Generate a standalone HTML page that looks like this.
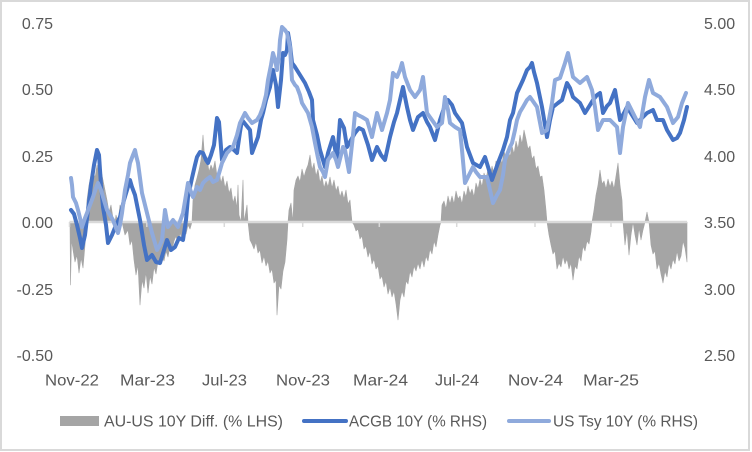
<!DOCTYPE html>
<html>
<head>
<meta charset="utf-8">
<style>
html,body{margin:0;padding:0;background:#fff;}
svg{display:block;}
text{font-family:"Liberation Sans",Arial,sans-serif;fill:#595959;}
</style>
</head>
<body>
<svg width="752" height="452" viewBox="0 0 752 452" xmlns="http://www.w3.org/2000/svg">
<rect x="0" y="0" width="752" height="452" fill="#fff"/>
<rect x="1" y="1" width="748" height="449" fill="none" stroke="#d9d9d9" stroke-width="2"/>

<!-- Gray differential area -->
<polygon fill="#a5a5a5" stroke="#a5a5a5" stroke-width="0.6" stroke-linejoin="round" points="
70,222 70.5,285 71.5,240 73,250 75,262 77,255 79,273 81,258 83,268 85,245 86,222 87,200 89,185 91,175 93,170 95,178 97,165 99,175 101,170 103,180 105,190 107,200 109,212 111,205 113,218 115,222 116,215 118,222 120,205 122,222 125,235 128,230 130,245 132,240 134,260 136,275 138,265 140,305 142,280 144,288 146,272 148,293 150,276 152,284 154,267 156,274 158,261 160,265 162,256 164,261 166,251 168,257 170,246 172,250 174,241 176,236 178,244 180,233 182,239 184,229 186,234 188,225 190,229 192,222 193,200 195,185 197,178 199,170 201,160 203,135 205,163 207,157 209,172 211,165 213,170 215,161 217,176 219,170 221,183 223,176 225,188 227,181 229,193 231,188 233,203 235,196 237,208 238,185 239,215 241,222 243,180 244,222 247,205 248,222 250,240 252,244 254,249 256,242 258,253 260,250 262,263 264,256 266,266 268,261 270,273 272,269 274,283 276,280 277,315 279,285 281,289 283,271 285,262 287,240 288,222 289,210 291,203 293,222 294,190 296,180 298,176 300,182 302,169 304,177 306,170 308,165 310,155 312,170 314,163 316,176 318,169 320,183 322,176 324,188 326,181 328,187 330,177 332,188 334,180 336,191 338,186 340,197 342,191 344,199 346,190 348,204 350,200 352,222 354,225 356,231 358,229 360,239 362,236 364,249 366,246 368,257 370,251 372,264 374,259 376,269 378,266 380,279 382,276 384,287 386,281 388,294 390,287 392,297 394,291 396,304 398,320 400,300 402,291 404,297 406,281 408,284 410,271 412,277 414,266 416,271 418,263 420,269 422,259 424,267 426,256 428,261 430,249 432,254 434,241 436,247 438,235 440,225 441,222 442,205 444,201 446,209 448,196 450,204 452,196 454,204 456,191 458,199 460,196 462,204 464,191 466,197 468,186 470,194 472,189 474,197 476,183 478,189 480,179 482,187 484,173 486,179 488,169 490,177 492,166 494,174 496,161 498,169 500,156 502,164 504,151 506,159 508,149 510,157 512,146 514,154 516,141 518,149 520,135 522,144 524,130 526,139 528,149 530,146 532,159 534,156 536,169 538,166 540,177 542,176 544,190 546,210 547,222 549,235 551,245 553,254 555,251 557,269 559,263 561,267 563,256 565,264 567,259 569,269 571,263 573,280 575,266 577,269 579,256 581,261 583,246 585,251 587,241 589,244 591,232 592,222 594,210 596,195 598,185 600,170 602,184 604,181 606,189 608,179 610,187 612,181 614,189 616,176 618,163 620,185 622,200 623,222 625,245 627,230 629,255 631,235 633,222 635,235 637,245 639,228 641,240 643,230 645,222 647,212 649,222 651,245 653,254 655,251 657,269 659,263 661,274 663,283 665,271 667,277 669,263 671,269 673,259 675,264 677,251 679,261 681,256 683,241 685,248 687,262 687,222"/>

<!-- Zero axis line and ticks -->
<line x1="69.5" y1="222" x2="687" y2="222" stroke="#d9d9d9" stroke-width="2.5"/>
<g stroke="#d9d9d9" stroke-width="1.5">
<line x1="69.5" y1="222" x2="69.5" y2="227"/>
<line x1="146.8" y1="222" x2="146.8" y2="227"/>
<line x1="224.3" y1="222" x2="224.3" y2="227"/>
<line x1="302.7" y1="222" x2="302.7" y2="227"/>
<line x1="379.3" y1="222" x2="379.3" y2="227"/>
<line x1="456.7" y1="222" x2="456.7" y2="227"/>
<line x1="535" y1="222" x2="535" y2="227"/>
<line x1="611" y1="222" x2="611" y2="227"/>
</g>

<!-- ACGB 10Y -->
<polyline fill="none" stroke="#4472c4" stroke-width="4" stroke-linejoin="round" stroke-linecap="round" points="
71,210 74,214 77,225 80,238 82,248 85,235 88,210 91,185 94,165 97,150 99,155 101,185 103,207 106,225 108,243 112,235 116,225 120,217 124,200 127,190 130,180 132,187 135,195 138,210 140,220 144,245 147,260 152,255 156,262 160,263 164,250 167,240 171,250 175,247 179,238 183,240 186,220 188,197 192,178 195,165 197,157 200,152 203,153 206,160 208,163 211,155 214,145 217,118 219,122 222,160 226,150 230,147 234,150 237,153 240,132 242,120 246,125 250,130 252,153 255,145 258,137 261,120 263,113 266,100 270,87 273,70 276,85 278,107 281,80 283,53 285,55 287,50 288,33 290,45 292,63 295,67 300,75 305,83 309,92 312,100 313,120 317,135 320,150 323,160 325,167 328,153 333,137 337,160 340,120 344,128 347,147 351,140 355,133 359,128 363,130 368,145 372,160 377,147 381,155 385,160 390,137 394,122 397,113 400,100 403,87 407,107 410,120 413,130 418,117 423,113 427,122 430,127 435,140 440,120 444,108 448,100 452,105 455,113 462,123 467,147 473,163 480,167 485,157 489,170 492,180 498,163 503,150 507,137 510,120 513,113 517,93 523,80 527,70 530,67 532,63 534,72 537,83 542,107 547,137 550,120 553,107 558,103 562,100 567,83 570,88 573,97 580,103 585,113 590,105 593,100 597,95 600,93 603,113 607,106 610,103 615,90 620,120 624,113 627,107 632,115 637,123 642,118 647,113 653,110 657,120 663,120 667,130 673,140 677,138 680,133 684,120 687,107"/>

<!-- US Tsy 10Y -->
<polyline fill="none" stroke="#8faadc" stroke-width="4" stroke-linejoin="round" stroke-linecap="round" points="
71,178 72,185 73,197 76,203 78,210 80,218 82,227 85,218 87,213 90,205 93,197 96,188 98,183 101,190 103,197 107,210 110,215 113,220 116,228 118,233 120,225 122,213 125,190 128,175 130,163 133,155 135,150 136,155 138,163 140,178 142,193 145,205 147,213 150,225 152,233 155,243 157,250 160,245 162,240 165,210 168,227 173,220 178,227 183,213 186,195 188,183 191,192 193,197 197,187 200,190 203,183 206,180 210,177 213,182 217,180 220,170 222,163 227,153 230,150 233,147 237,135 240,123 245,113 248,118 252,123 257,120 260,115 263,107 266,95 268,80 271,65 273,53 275,60 277,70 279,55 280,40 282,27 285,30 287,33 290,47 292,80 295,85 297,87 300,95 302,103 305,108 308,113 312,127 315,143 318,158 320,167 323,172 325,177 328,160 333,153 336,160 338,167 343,147 345,150 349,172 353,135 355,113 358,115 362,117 367,120 372,137 377,113 382,130 387,113 390,100 393,73 397,77 400,70 402,63 405,77 410,90 415,97 420,90 423,77 425,95 427,113 432,120 437,127 442,123 445,97 448,110 450,123 455,127 460,130 462,150 465,183 468,177 473,167 476,172 480,177 487,177 490,190 493,203 497,195 500,190 503,175 505,160 510,147 512,143 515,130 517,120 520,112 523,107 527,100 530,97 537,107 542,133 547,130 552,103 555,80 560,78 565,63 568,53 573,77 580,83 587,77 592,90 595,107 598,130 603,120 610,120 617,127 620,153 623,127 628,103 635,117 640,127 645,97 649,80 653,93 660,97 667,107 673,123 678,117 682,103 686,93"/>

<!-- Left axis labels -->
<g font-size="16" text-anchor="end">
<text x="53" y="29">0.75</text>
<text x="53" y="95">0.50</text>
<text x="53" y="162">0.25</text>
<text x="53" y="228">0.00</text>
<text x="53" y="295">-0.25</text>
<text x="53" y="361">-0.50</text>
</g>

<!-- Right axis labels -->
<g font-size="16">
<text x="704" y="29">5.00</text>
<text x="704" y="95">4.50</text>
<text x="704" y="162">4.00</text>
<text x="704" y="228">3.50</text>
<text x="704" y="295">3.00</text>
<text x="704" y="361">2.50</text>
</g>

<!-- X axis labels -->
<g font-size="16">
<text x="45" y="385.5" textLength="54" lengthAdjust="spacingAndGlyphs">Nov-22</text>
<text x="120" y="385.5" textLength="55" lengthAdjust="spacingAndGlyphs">Mar-23</text>
<text x="202" y="385.5" textLength="45" lengthAdjust="spacingAndGlyphs">Jul-23</text>
<text x="276" y="385.5" textLength="54" lengthAdjust="spacingAndGlyphs">Nov-23</text>
<text x="353" y="385.5" textLength="55" lengthAdjust="spacingAndGlyphs">Mar-24</text>
<text x="435" y="385.5" textLength="44" lengthAdjust="spacingAndGlyphs">Jul-24</text>
<text x="508" y="385.5" textLength="55" lengthAdjust="spacingAndGlyphs">Nov-24</text>
<text x="583" y="385.5" textLength="56" lengthAdjust="spacingAndGlyphs">Mar-25</text>
</g>

<!-- Legend -->
<rect x="60" y="416" width="39" height="10" fill="#a5a5a5"/>
<line x1="304" y1="421" x2="346" y2="421" stroke="#4472c4" stroke-width="4" stroke-linecap="round"/>
<line x1="509" y1="421" x2="549" y2="421" stroke="#8faadc" stroke-width="4" stroke-linecap="round"/>
<g font-size="15.5">
<text x="104" y="426.5" textLength="179" lengthAdjust="spacingAndGlyphs">AU-US 10Y Diff. (% LHS)</text>
<text x="349" y="426.5" textLength="138" lengthAdjust="spacingAndGlyphs">ACGB 10Y (% RHS)</text>
<text x="553" y="426.5" textLength="145" lengthAdjust="spacingAndGlyphs">US Tsy 10Y (% RHS)</text>
</g>
</svg>
</body>
</html>
